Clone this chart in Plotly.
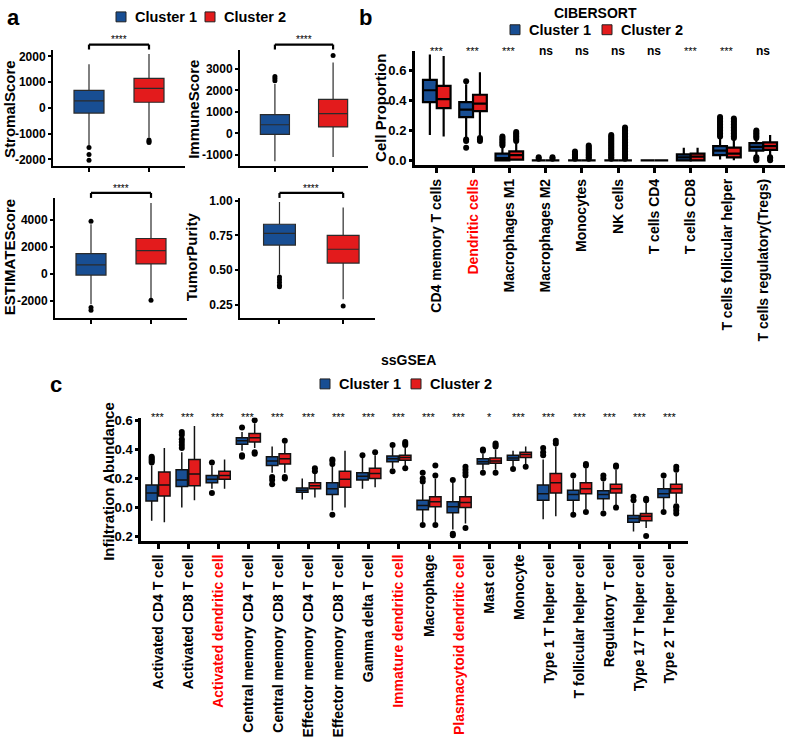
import plotly.graph_objects as go

W, H = 787, 747
FONT = "Liberation Sans"
BLUE = "#184E93"
RED = "#E31B1C"

# ---------------- Panel a data (quartiles, whiskers, outliers) ----------------
a_groups = ["Cluster 1", "Cluster 2"]

stromal_q1 = [-200, 220]
stromal_med = [270, 760]
stromal_q3 = [680, 1150]
stromal_lo = [-1450, -1150]
stromal_hi = [1700, 2100]
stromal_out = [[-1540, -1810, -2040], [-1250, -1300, -1350]]

immune_q1 = [-50, 300]
immune_med = [400, 920]
immune_q3 = [870, 1580]
immune_lo = [-1300, -1100]
immune_hi = [2300, 3300]
immune_out = [[2450, 2550, 2650], [3620]]

estimate_q1 = [-80, 750]
estimate_med = [680, 1740]
estimate_q3 = [1510, 2640]
estimate_lo = [-2260, -1800]
estimate_hi = [3700, 5280]
estimate_out = [[3920, -2500, -2700], [-1960]]

purity_q1 = [0.68, 0.55]
purity_med = [0.765, 0.65]
purity_q3 = [0.83, 0.75]
purity_lo = [0.47, 0.29]
purity_hi = [0.99, 0.95]
purity_out = [[0.45, 0.43, 0.41, 0.39, 0.38], [0.24]]

# ---------------- Panel b data (CIBERSORT) ----------------
b_cats = ["CD4 memory T cells", "Dendritic cells", "Macrophages M1", "Macrophages M2",
          "Monocytes", "NK cells", "T cells CD4", "T cells CD8",
          "T cells follicular helper", "T cells regulatory(Tregs)"]
b_red_labels = ["Dendritic cells"]
b_sig = ["***", "***", "***", "ns", "ns", "ns", "ns", "***", "***", "ns"]

b1_q1 = [0.39, 0.29, 0.0, 0.0, 0.0, 0.0, 0.0, 0.0, 0.035, 0.065]
b1_med = [0.47, 0.34, 0.015, 0.0, 0.0, 0.0, 0.0, 0.02, 0.065, 0.09]
b1_q3 = [0.54, 0.39, 0.045, 0.0, 0.0, 0.0, 0.0, 0.04, 0.095, 0.115]
b1_lo = [0.17, 0.15, 0.0, 0.0, 0.0, 0.0, 0.0, 0.0, 0.005, 0.03]
b1_hi = [0.71, 0.51, 0.09, 0.0, 0.0, 0.0, 0.0, 0.085, 0.15, 0.14]
b1_out = [[],
          [0.53, 0.14, 0.13, 0.085],
          [0.10, 0.11, 0.12, 0.13, 0.14, 0.15, 0.16],
          [0.01, 0.02],
          [0.01, 0.02, 0.03, 0.04, 0.05, 0.06],
          [0.01, 0.02, 0.03, 0.04, 0.05, 0.06, 0.07, 0.08, 0.09, 0.10, 0.11, 0.12, 0.13, 0.14, 0.15, 0.16, 0.17],
          [],
          [],
          [0.16, 0.17, 0.18, 0.19, 0.20, 0.21, 0.22, 0.23, 0.24, 0.25, 0.26, 0.27, 0.28, 0.29],
          [0.15, 0.16, 0.17, 0.18, 0.19, 0.20, 0.0, 0.01, 0.02]]

b2_q1 = [0.35, 0.33, 0.005, 0.0, 0.0, 0.0, 0.0, 0.0, 0.02, 0.07]
b2_med = [0.41, 0.38, 0.035, 0.0, 0.0, 0.0, 0.0, 0.025, 0.045, 0.095]
b2_q3 = [0.50, 0.44, 0.06, 0.0, 0.0, 0.0, 0.0, 0.045, 0.085, 0.12]
b2_lo = [0.16, 0.16, 0.0, 0.0, 0.0, 0.0, 0.0, 0.0, 0.0, 0.03]
b2_hi = [0.70, 0.59, 0.12, 0.0, 0.0, 0.0, 0.0, 0.085, 0.14, 0.17]
b2_out = [[],
          [0.13, 0.14, 0.15],
          [0.13, 0.14, 0.15, 0.16, 0.17, 0.18, 0.19],
          [0.01, 0.02],
          [0.01, 0.02, 0.03, 0.04, 0.05, 0.06, 0.07, 0.08, 0.09, 0.10],
          [0.01, 0.02, 0.03, 0.04, 0.05, 0.06, 0.07, 0.08, 0.09, 0.10, 0.11, 0.12, 0.13, 0.14, 0.15, 0.16, 0.17, 0.18, 0.19, 0.20, 0.21, 0.22],
          [],
          [],
          [0.15, 0.16, 0.17, 0.18, 0.19, 0.20, 0.21, 0.22, 0.23, 0.24, 0.25, 0.26, 0.27, 0.28],
          [0.0, 0.01, 0.02]]

# ---------------- Panel c data (ssGSEA) ----------------
c_cats = ["Activated CD4 T cell", "Activated CD8 T cell", "Activated dendritic cell",
          "Central memory CD4 T cell", "Central memory CD8 T cell", "Effector memory CD4 T cell",
          "Effector memory CD8 T cell", "Gamma delta T cell", "Immature dendritic cell",
          "Macrophage", "Plasmacytoid dendritic cell", "Mast cell", "Monocyte",
          "Type 1 T helper cell", "T follicular helper cell", "Regulatory T cell",
          "Type 17 T helper cell", "Type 2 T helper cell"]
c_red_labels = ["Activated dendritic cell", "Immature dendritic cell", "Plasmacytoid dendritic cell"]
c_sig = ["***"] * 11 + ["*"] + ["***"] * 6

c1_q1 = [0.045, 0.145, 0.17, 0.435, 0.29, 0.105, 0.09, 0.19, 0.315, -0.015, -0.035, 0.30, 0.325, 0.05, 0.05, 0.06, -0.10, 0.07]
c1_med = [0.10, 0.19, 0.195, 0.46, 0.32, 0.12, 0.13, 0.215, 0.335, 0.015, 0.005, 0.315, 0.34, 0.095, 0.09, 0.09, -0.075, 0.095]
c1_q3 = [0.155, 0.26, 0.22, 0.48, 0.35, 0.135, 0.17, 0.24, 0.355, 0.05, 0.04, 0.335, 0.36, 0.155, 0.12, 0.115, -0.055, 0.13]
c1_lo = [-0.09, 0.0, 0.13, 0.39, 0.24, 0.055, -0.02, 0.13, 0.27, -0.10, -0.15, 0.26, 0.28, -0.08, -0.03, -0.02, -0.165, -0.01]
c1_hi = [0.29, 0.38, 0.29, 0.52, 0.42, 0.20, 0.29, 0.34, 0.41, 0.16, 0.17, 0.37, 0.39, 0.33, 0.20, 0.18, 0.03, 0.20]
c1_out = [[0.31, 0.32, 0.33, 0.34, 0.35],
          [0.41, 0.43, 0.45, 0.47, 0.50, 0.52],
          [0.31, 0.10],
          [0.55, 0.35, 0.36],
          [0.16, 0.19, 0.21],
          [],
          [0.30, 0.32, 0.33, -0.05],
          [0.36],
          [0.43, 0.25],
          [0.18, 0.20, 0.24, -0.12],
          [0.19, -0.18, -0.19],
          [0.39, 0.40, 0.24],
          [0.265],
          [0.36, 0.38, 0.41],
          [0.22, -0.05],
          [0.20, 0.22, -0.04],
          [0.05, 0.075],
          [0.22, -0.03]]

c2_q1 = [0.08, 0.15, 0.195, 0.45, 0.30, 0.13, 0.14, 0.20, 0.325, 0.005, 0.0, 0.305, 0.345, 0.10, 0.095, 0.10, -0.09, 0.10]
c2_med = [0.155, 0.23, 0.22, 0.48, 0.335, 0.15, 0.195, 0.235, 0.345, 0.04, 0.035, 0.32, 0.365, 0.17, 0.13, 0.13, -0.06, 0.13]
c2_q3 = [0.245, 0.33, 0.25, 0.51, 0.37, 0.17, 0.25, 0.27, 0.36, 0.075, 0.075, 0.34, 0.38, 0.235, 0.17, 0.16, -0.04, 0.16]
c2_lo = [-0.10, 0.05, 0.13, 0.41, 0.24, 0.07, 0.0, 0.14, 0.28, -0.10, -0.11, 0.26, 0.30, -0.06, -0.01, 0.01, -0.14, 0.03]
c2_hi = [0.41, 0.56, 0.33, 0.58, 0.44, 0.23, 0.39, 0.36, 0.41, 0.20, 0.20, 0.40, 0.42, 0.42, 0.27, 0.26, 0.04, 0.24]
c2_out = [[],
          [],
          [],
          [0.60, 0.37, 0.38],
          [0.46, 0.20, 0.21],
          [0.25, 0.27],
          [],
          [0.38],
          [0.43, 0.44, 0.45, 0.27],
          [0.22, 0.29, -0.12],
          [0.22, 0.24, 0.26, 0.28, -0.14],
          [0.42, 0.43, 0.44, 0.24],
          [0.28],
          [0.44, 0.46],
          [0.29, 0.30, -0.03],
          [0.28, 0.29, 0.0],
          [0.05, 0.06, -0.195],
          [0.26, 0.28, 0.01, 0.0, -0.02, -0.04]]


# ---------------- helpers (page pixel -> paper fraction) ----------------
def fx(p):
    return p / W


def fy(p):
    return 1 - p / H


fig = go.Figure()


def add_boxes(xa, ya, xs, q1, med, q3, lo, hi, outs, color, name, width, lw,
              lcol, msize=5):
    fig.add_trace(go.Box(
        x=xs, q1=q1, median=med, q3=q3, lowerfence=lo, upperfence=hi,
        width=width, fillcolor=color, line=dict(color=lcol, width=lw),
        whiskerwidth=0, boxpoints=False, name=name, xaxis=xa, yaxis=ya,
        showlegend=False, hoverinfo="skip"))
    ox, oy = [], []
    for xpos, vals in zip(xs, outs):
        for v in vals:
            ox.append(xpos)
            oy.append(v)
    fig.add_trace(go.Scatter(
        x=ox, y=oy, mode="markers", xaxis=xa, yaxis=ya, showlegend=False,
        marker=dict(color="black", size=msize), hoverinfo="skip"))


# Panel a: four sub-panels
a_specs = [
    ("x", "y", stromal_q1, stromal_med, stromal_q3, stromal_lo, stromal_hi, stromal_out),
    ("x2", "y2", immune_q1, immune_med, immune_q3, immune_lo, immune_hi, immune_out),
    ("x3", "y3", estimate_q1, estimate_med, estimate_q3, estimate_lo, estimate_hi, estimate_out),
    ("x4", "y4", purity_q1, purity_med, purity_q3, purity_lo, purity_hi, purity_out),
]
colors = [BLUE, RED]
for k, (xa, ya, q1, med, q3, lo, hi, outs) in enumerate(a_specs):
    for g in range(2):
        add_boxes(xa, ya, [g], [q1[g]], [med[g]], [q3[g]], [lo[g]], [hi[g]],
                  [outs[g]], colors[g], a_groups[g], 0.5, 1.2, "#2b2b2b", msize=5)

# Panel b
nb = len(b_cats)
add_boxes("x5", "y5", [i - 0.19 for i in range(nb)], b1_q1, b1_med, b1_q3, b1_lo, b1_hi,
          b1_out, BLUE, "Cluster 1", 0.38, 2.2, "black", msize=6)
add_boxes("x5", "y5", [i + 0.19 for i in range(nb)], b2_q1, b2_med, b2_q3, b2_lo, b2_hi,
          b2_out, RED, "Cluster 2", 0.38, 2.2, "black", msize=6)

# Panel c
nc = len(c_cats)
add_boxes("x6", "y6", [i - 0.21 for i in range(nc)], c1_q1, c1_med, c1_q3, c1_lo, c1_hi,
          c1_out, BLUE, "Cluster 1", 0.38, 1.5, "#111111", msize=6)
add_boxes("x6", "y6", [i + 0.21 for i in range(nc)], c2_q1, c2_med, c2_q3, c2_lo, c2_hi,
          c2_out, RED, "Cluster 2", 0.38, 1.5, "#111111", msize=6)


def label(t, reds):
    if t in reds:
        return '<span style="color:#FF0000">' + t + "</span>"
    return t


def axis(domain, rng, anchor, lw=2, size=13, **kw):
    d = dict(domain=domain, range=rng, anchor=anchor, showline=True, linecolor="black",
             linewidth=lw, ticks="outside", ticklen=3, tickwidth=lw, tickcolor="black",
             showgrid=False, zeroline=False, mirror=False,
             tickfont=dict(family=FONT, size=size, color="black", weight="bold"))
    d.update(kw)
    return d


def dom_x(a, b):
    return [fx(a), fx(b)]


def dom_y(top, bottom):
    return [fy(bottom), fy(top)]


def ticks_text(vals, fmt):
    return [fmt.format(v) for v in vals]


lay = dict(width=W, height=H, margin=dict(l=0, r=0, t=0, b=0),
           paper_bgcolor="white", plot_bgcolor="white", boxmode="overlay",
           showlegend=False, font=dict(family=FONT, color="black"))

xa_kw = dict(tickvals=[0, 1], ticktext=["", ""], ticklen=4)
lay["xaxis"] = axis(dom_x(53, 185), [-0.6, 1.6], "y", **xa_kw)
lay["xaxis2"] = axis(dom_x(240, 368), [-0.6, 1.6], "y2", **xa_kw)
lay["xaxis3"] = axis(dom_x(55, 187), [-0.6, 1.6], "y3", **xa_kw)
lay["xaxis4"] = axis(dom_x(240, 375), [-0.62, 1.5], "y4", **xa_kw)

tv1 = [-2000, -1000, 0, 1000, 2000]
lay["yaxis"] = axis(dom_y(45, 163), [-2270, 2270], "x", size=12, tickvals=tv1, ticktext=ticks_text(tv1, "{:d}"))
tv2 = [-1000, 0, 1000, 2000, 3000]
lay["yaxis2"] = axis(dom_y(45, 163), [-1530, 3900], "x2", size=12, tickvals=tv2, ticktext=ticks_text(tv2, "{:d}"))
tv3 = [-2000, 0, 2000, 4000]
lay["yaxis3"] = axis(dom_y(195, 316), [-3245, 5660], "x3", size=12, tickvals=tv3, ticktext=ticks_text(tv3, "{:d}"))
tv4 = [0.25, 0.50, 0.75, 1.00]
lay["yaxis4"] = axis(dom_y(195, 316), [0.157, 1.02], "x4", size=12, tickvals=tv4, ticktext=ticks_text(tv4, "{:.2f}"))

lay["xaxis5"] = axis(dom_x(415, 785), [-0.6, 9.6], "y5", lw=3, size=14, ticklen=5,
                     tickvals=list(range(nb)), ticktext=[label(t, b_red_labels) for t in b_cats],
                     tickangle=-90)
tv5 = [0.0, 0.2, 0.4, 0.6]
lay["yaxis5"] = axis(dom_y(47, 162), [-0.033, 0.73], "x5", lw=3, size=13,
                     tickvals=tv5, ticktext=ticks_text(tv5, "{:.1f}"))

lay["xaxis6"] = axis(dom_x(141, 688), [-0.565, 17.6], "y6", lw=2.5, size=14, ticklen=5,
                     tickvals=list(range(nc)), ticktext=[label(t, c_red_labels) for t in c_cats],
                     tickangle=-90)
tv6 = [-0.2, 0.0, 0.2, 0.4, 0.6]
lay["yaxis6"] = axis(dom_y(417, 542), [-0.231, 0.619], "x6", lw=2.5, size=13,
                     tickvals=tv6, ticktext=ticks_text(tv6, "{:.1f}"))

fig.update_layout(**lay)

ann = []
shapes = []


def text(x, y, t, size=14, angle=0, xref="paper", color="black", bold=True, xanchor="center"):
    ann.append(dict(x=x, y=fy(y), xref=xref, yref="paper", text=t, showarrow=False,
                    textangle=angle, xanchor=xanchor, yanchor="middle",
                    font=dict(family=FONT, size=size, color=color,
                              weight="bold" if bold else "normal")))


# panel letters
text(fx(13), 13, "a", size=22)
text(fx(365), 13, "b", size=22)
text(fx(56), 384, "c", size=22)

# titles
text(fx(595), 8, "CIBERSORT", size=14)
text(fx(408), 359, "ssGSEA", size=14)

# y-axis titles
text(fx(10), 105, "StromalScore", size=15, angle=-90)
text(fx(194), 106, "ImmuneScore", size=15, angle=-90)
text(fx(9), 255, "ESTIMATEScore", size=15, angle=-90)
text(fx(191), 255, "TumorPurity", size=15, angle=-90)
text(fx(381), 104, "Cell Proportion", size=15, angle=-90)
text(fx(109), 482, "Infiltration Abundance", size=15, angle=-90)

# cluster keys (legends)
for sx, ty in [((116, 205), 12), ((510, 602), 25), ((320, 411), 383)]:
    for k in range(2):
        x0 = sx[k]
        shapes.append(dict(type="rect", xref="paper", yref="paper",
                           x0=fx(x0), x1=fx(x0 + 10), y0=fy(ty + 5), y1=fy(ty - 5),
                           fillcolor=colors[k], line=dict(color="#222222", width=1)))
        text(fx(x0 + 17), ty, a_groups[k], size=14.5, xanchor="left")

# significance brackets in panel a
for xa, top in [("x", 40), ("x2", 40), ("x3", 190), ("x4", 190)]:
    for (x0, y0, x1, y1) in [(0, top, 1, top), (0, top, 0, top + 5), (1, top, 1, top + 5)]:
        shapes.append(dict(type="line", xref=xa, yref="paper", x0=x0, x1=x1,
                           y0=fy(y0), y1=fy(y1), line=dict(color="black", width=2.2)))
    text(0.5, top - 5, "****", size=10, xref=xa, bold=False)

for i, s in enumerate(b_sig):
    text(i, 46, s, size=12 if s == "ns" else 11, xref="x5", bold=(s == "ns"))
for i, s in enumerate(c_sig):
    text(i, 416, s, size=11, xref="x6", bold=False)

fig.update_layout(annotations=ann, shapes=shapes)
fig.write_html("out.html", config={"displayModeBar": False},
               post_script="document.body.style.margin='0px';"
                           "document.body.style.overflow='hidden';")
